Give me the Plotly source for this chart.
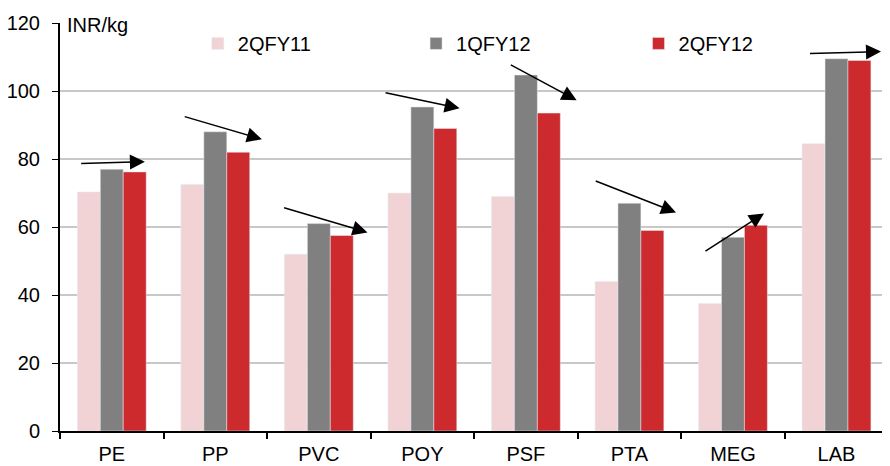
import plotly.graph_objects as go

categories = ["PE", "PP", "PVC", "POY", "PSF", "PTA", "MEG", "LAB"]
q2fy11 = [70.3, 72.5, 52.0, 70.0, 69.0, 44.0, 37.5, 84.5]
q1fy12 = [77.0, 88.0, 61.0, 95.3, 104.7, 67.0, 57.0, 109.5]
q2fy12 = [76.2, 82.0, 57.5, 89.0, 93.5, 59.0, 60.5, 109.0]
y_ticks = [0, 20, 40, 60, 80, 100, 120]

# trend arrows: (x_start, y_start, x_end, y_end) in category-index / value units
arrows = [
    (-0.31, 78.7, 0.32, 79.2),
    (0.69, 92.6, 1.45, 85.8),
    (1.65, 65.8, 2.47, 58.4),
    (2.63, 99.6, 3.36, 94.9),
    (3.84, 107.9, 4.49, 97.3),
    (4.66, 73.7, 5.45, 64.3),
    (5.72, 52.6, 6.30, 64.0),
    (6.73, 111.0, 7.43, 111.6),
]

font = "Liberation Sans, Arial, sans-serif"
fig = go.Figure()
fig.add_trace(go.Bar(x=categories, y=q2fy11, name="2QFY11", marker_color="#F2D3D5", legend="legend"))
fig.add_trace(go.Bar(x=categories, y=q1fy12, name="1QFY12", marker_color="#808080", legend="legend2"))
fig.add_trace(go.Bar(x=categories, y=q2fy12, name="2QFY12", marker_color="#CC2A2D", legend="legend3"))

for (x0, y0, x1, y1) in arrows:
    fig.add_annotation(x=x1, y=y1, ax=x0, ay=y0, xref="x", yref="y", axref="x", ayref="y",
                       text="", showarrow=True, arrowhead=2, arrowsize=2.0, arrowwidth=1.5,
                       arrowcolor="black")

fig.add_annotation(x=0, y=1.0, xref="paper", yref="paper", text="INR/kg", showarrow=False,
                   xanchor="left", yanchor="middle", xshift=5, yshift=-2,
                   font=dict(size=20, color="black"))

leg = dict(orientation="h", y=0.95, xanchor="left", yanchor="middle", itemwidth=30,
           font=dict(size=20), bgcolor="rgba(0,0,0,0)")
fig.update_layout(
    width=882, height=458,
    margin=dict(l=52, r=0, t=15, b=35, autoexpand=False),
    paper_bgcolor="white", plot_bgcolor="white",
    font=dict(family=font, size=20, color="black"),
    barmode="group", bargap=0.335, bargroupgap=0,
    showlegend=True,
    legend=dict(leg, x=0.166),
    legend2=dict(leg, x=0.429),
    legend3=dict(leg, x=0.697),
)
fig.update_xaxes(showline=True, linecolor="black", linewidth=2,
                 tickson="boundaries", showgrid=False,
                 ticks="outside", ticklen=6, tickcolor="black", tickwidth=1.5,
                 ticklabelstandoff=4)
fig.update_yaxes(range=[0, 120], tickvals=y_ticks, showline=True, linecolor="black", linewidth=2,
                 ticks="outside", ticklen=6, tickcolor="black", showgrid=True,
                 gridcolor="#C8C8C8", gridwidth=1.5, zeroline=False, ticklabelstandoff=8)

fig.write_html("out.html")
